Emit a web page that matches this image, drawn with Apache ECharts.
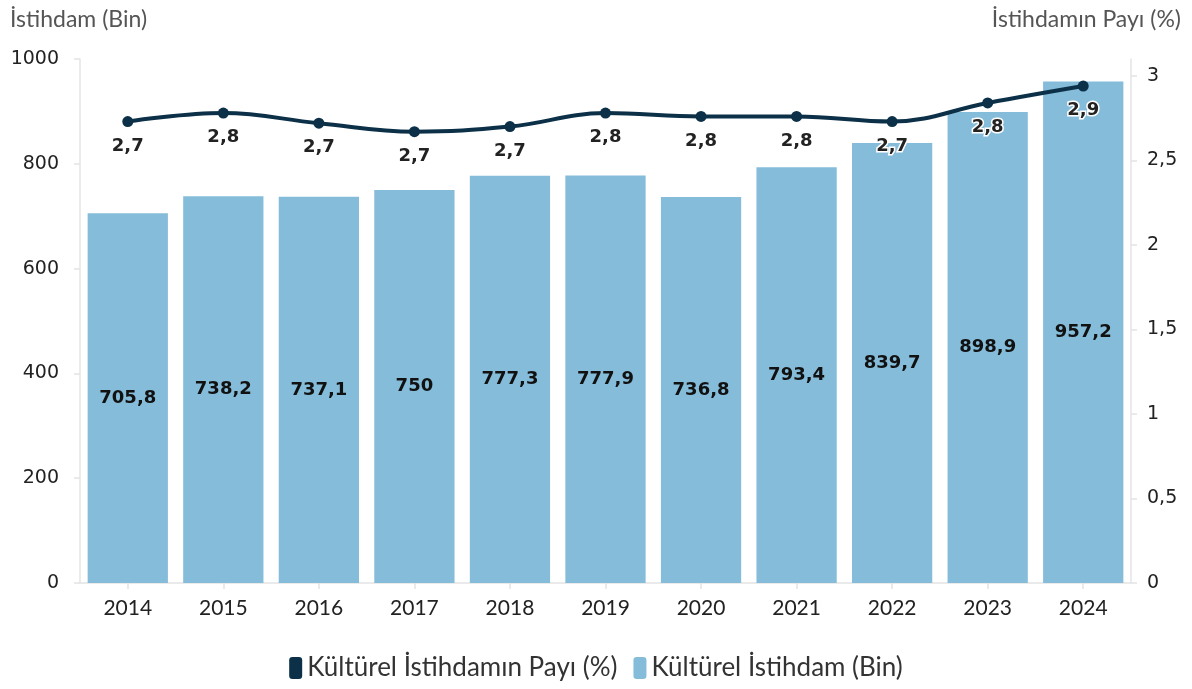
<!DOCTYPE html>
<html>
<head>
<meta charset="utf-8">
<script src="https://cdn.jsdelivr.net/npm/echarts@6/dist/echarts.min.js"></script>
<style>
html,body{margin:0;padding:0;background:#fff;}
#chart{width:1192px;height:689px;}
</style>
</head>
<body>
<div id="chart"></div>
<script>
const years = ['2014','2015','2016','2017','2018','2019','2020','2021','2022','2023','2024'];
const employment = [705.8, 738.2, 737.1, 750, 777.3, 777.9, 736.8, 793.4, 839.7, 898.9, 957.2];
const share = [2.73, 2.78, 2.72, 2.67, 2.70, 2.78, 2.76, 2.76, 2.73, 2.84, 2.94];
const leftTitle = 'İstihdam (Bin)';
const rightTitle = 'İstihdamın Payı (%)';
const lineName = 'Kültürel İstihdamın Payı (%)';
const barName = 'Kültürel İstihdam (Bin)';

const fmt = v => String(v).replace('.', ',');
const axisLineStyle = {show:true, lineStyle:{color:'#e4e4e4', width:1.5}};
const axisTickStyle = {show:true, length:6, lineStyle:{color:'#e4e4e4', width:1.5}};

const chart = echarts.init(document.getElementById('chart'), null, {renderer:'canvas'});
chart.setOption({
  animation:false,
  backgroundColor:'#fff',
  grid:{left:80, right:61, top:59, bottom:106, containLabel:false},
  graphic:[
    {type:'text', left:10, top:8, style:{text:leftTitle, font:'23px Lato', fill:'#555'}},
    {type:'text', right:11, top:8, style:{text:rightTitle, font:'23px Lato', fill:'#555'}}
  ],
  legend:{
    bottom:3, left:'center', itemGap:16, itemWidth:13, itemHeight:22,
    textStyle:{fontFamily:'Lato', fontSize:26, color:'#333'},
    data:[
      {name:lineName, icon:'roundRect', itemStyle:{color:'#0c3048'}},
      {name:barName, icon:'roundRect', itemStyle:{color:'#85bcd9'}}
    ]
  },
  xAxis:{
    type:'category', data:years,
    axisLine:axisLineStyle,
    axisTick:Object.assign({alignWithLabel:true}, axisTickStyle),
    axisLabel:{fontFamily:'Lato', fontSize:21, color:'#222', margin:15}
  },
  yAxis:[
    {type:'value', min:0, max:1000, interval:200,
     axisLine:axisLineStyle, axisTick:axisTickStyle, splitLine:{show:false},
     axisLabel:{fontFamily:'DejaVu Sans', fontSize:19, color:'#222', margin:21,
       formatter:v => String(v)}},
    {type:'value', min:0, max:3.1, interval:0.5,
     axisLine:axisLineStyle, axisTick:axisTickStyle, splitLine:{show:false},
     axisLabel:{fontFamily:'DejaVu Sans', fontSize:19, color:'#222', margin:16, showMaxLabel:false,
       formatter:v => fmt(v)}}
  ],
  series:[
    {name:barName, type:'bar', yAxisIndex:0, data:employment, barCategoryGap:'16%',
     itemStyle:{color:'#85bcd9'}, z:1,
     label:{show:true, position:'inside', fontFamily:'DejaVu Sans', fontWeight:'bold', fontSize:18, color:'#111',
       formatter:p => fmt(p.value)}},
    {name:lineName, type:'line', yAxisIndex:1, data:share, smooth:0.4,
     symbol:'circle', symbolSize:11, z:5,
     lineStyle:{color:'#0c3048', width:4}, itemStyle:{color:'#0c3048'},
     label:{show:true, position:'bottom', distance:10, fontFamily:'DejaVu Sans', fontWeight:'bold', fontSize:18,
       color:'#222', textBorderColor:'#fff', textBorderWidth:3,
       formatter:p => fmt(p.value.toFixed(1))}}
  ]
});
</script>
</body>
</html>
